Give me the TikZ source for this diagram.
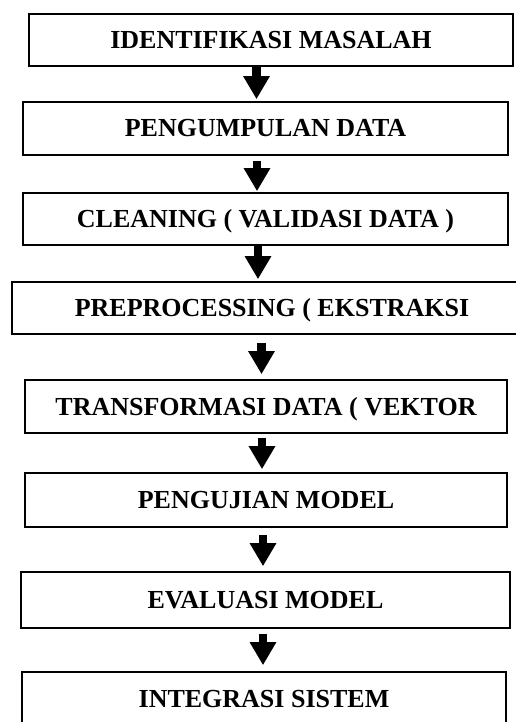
\documentclass[tikz,border=0pt]{standalone}
\usepackage{fontspec}
\setmainfont{Liberation Serif}
\usetikzlibrary{arrows.meta}
\tikzset{
  stepbox/.style={draw=black, line width=1.6pt, rectangle, inner sep=0pt,
    font=\bfseries\fontsize{26}{30}\selectfont, text height=17pt, text depth=0pt},
  fat/.style={draw=black, fill=black, line width=8.5pt, line cap=butt,
    -{Triangle[length=23pt,width=25pt]}}
}
\begin{document}
\begin{tikzpicture}[x=1pt,y=-1pt]
\useasboundingbox (0,0) rectangle (516,722);
\clip (0,0) rectangle (516,722);
\node[stepbox, minimum width=484pt, minimum height=52pt] (b1) at (271,40) {IDENTIFIKASI MASALAH};
\node[stepbox, minimum width=485pt, minimum height=53pt] (b2) at (265.5,128.5) {PENGUMPULAN DATA};
\node[stepbox, minimum width=485pt, minimum height=52pt] (b3) at (265.5,219) {CLEANING ( VALIDASI DATA )};
\node[stepbox, minimum width=520pt, minimum height=52pt] (b4) at (272,308) {PREPROCESSING ( EKSTRAKSI};
\node[stepbox, minimum width=482pt, minimum height=53pt] (b5) at (266,406.5) {TRANSFORMASI DATA ( VEKTOR};
\node[stepbox, minimum width=482pt, minimum height=54pt] (b6) at (266,500) {PENGUJIAN MODEL};
\node[stepbox, minimum width=489pt, minimum height=56pt] (b7) at (265.5,600) {EVALUASI MODEL};
\node[stepbox, minimum width=484pt, minimum height=54pt] (b8) at (264,699) {INTEGRASI SISTEM};
\draw[fat, shorten >=2pt] (b1.south -| 256.5,0) -- (b2.north -| 256.5,0);
\draw[fat, shorten <=5pt, shorten >=1pt] (b2.south -| 257,0) -- (b3.north -| 257,0);
\draw[fat, shorten >=2pt] (b3.south -| 258,0) -- (b4.north -| 258,0);
\draw[fat, shorten <=8pt, shorten >=5pt] (b4.south -| 261.5,0) -- (b5.north -| 261.5,0);
\draw[fat, shorten <=4pt, shorten >=3pt] (b5.south -| 262,0) -- (b6.north -| 262,0);
\draw[fat, shorten <=7pt, shorten >=5pt] (b6.south -| 263,0) -- (b7.north -| 263,0);
\draw[fat, shorten <=5pt, shorten >=6pt] (b7.south -| 263,0) -- (b8.north -| 263,0);
\end{tikzpicture}
\end{document}
